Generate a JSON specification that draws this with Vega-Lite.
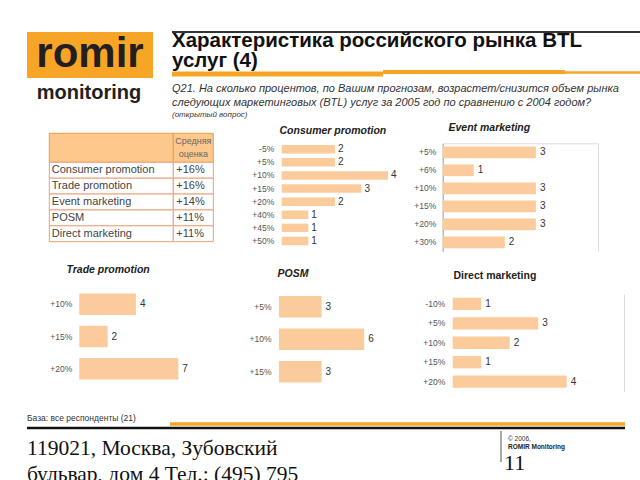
{
  "$schema": "https://vega.github.io/schema/vega-lite/v6.json",
  "width": 640,
  "height": 480,
  "autosize": "none",
  "padding": 0,
  "background": "white",
  "config": {"view": {"stroke": null}, "font": "Liberation Sans"},
  "datasets": {
    "cp": [{"change": "-5%", "count": 2}, {"change": "+5%", "count": 2}, {"change": "+10%", "count": 4}, {"change": "+15%", "count": 3}, {"change": "+20%", "count": 2}, {"change": "+40%", "count": 1}, {"change": "+45%", "count": 1}, {"change": "+50%", "count": 1}],
    "em": [{"change": "+5%", "count": 3}, {"change": "+6%", "count": 1}, {"change": "+10%", "count": 3}, {"change": "+15%", "count": 3}, {"change": "+20%", "count": 3}, {"change": "+30%", "count": 2}],
    "tp": [{"change": "+10%", "count": 4}, {"change": "+15%", "count": 2}, {"change": "+20%", "count": 7}],
    "posm": [{"change": "+5%", "count": 3}, {"change": "+10%", "count": 6}, {"change": "+15%", "count": 3}],
    "dm": [{"change": "-10%", "count": 1}, {"change": "+5%", "count": 3}, {"change": "+10%", "count": 2}, {"change": "+15%", "count": 1}, {"change": "+20%", "count": 4}],
    "table": [{"service": "Consumer promotion", "avg": 0.16}, {"service": "Trade promotion", "avg": 0.16}, {"service": "Event marketing", "avg": 0.14}, {"service": "POSM", "avg": 0.11}, {"service": "Direct marketing", "avg": 0.11}]
  },
  "layer": [
    {"data": {"values": [{}]}, "mark": {"type": "rect", "color": "#F7A526"}, "encoding": {"x": {"value": 27}, "x2": {"value": 153}, "y": {"value": 32}, "y2": {"value": 78}}},
    {"data": {"values": [{}]}, "mark": {"type": "text", "text": "romir", "fontWeight": "bold", "fontSize": 42, "color": "#231F20", "align": "center", "baseline": "alphabetic"}, "encoding": {"x": {"value": 90}, "y": {"value": 67}}},
    {"data": {"values": [{}]}, "mark": {"type": "text", "text": "monitoring", "fontWeight": "bold", "fontSize": 20, "color": "#231F20", "align": "center", "baseline": "alphabetic"}, "encoding": {"x": {"value": 89}, "y": {"value": 99}}},
    {"data": {"values": [{}]}, "mark": {"type": "rule", "color": "#333333", "strokeWidth": 2}, "encoding": {"x": {"value": 172}, "x2": {"value": 640}, "y": {"value": 32}}},
    {"data": {"values": [{}]}, "mark": {"type": "text", "text": ["Характеристика российского рынка BTL", "услуг (4)"], "fontWeight": "bold", "fontSize": 20.5, "color": "#111111", "align": "left", "baseline": "alphabetic", "lineHeight": 20.5}, "encoding": {"x": {"value": 172}, "y": {"value": 46.5}}},
    {"data": {"values": [{}]}, "mark": {"type": "rule", "color": "#F7A526", "strokeWidth": 5}, "encoding": {"x": {"value": 172}, "x2": {"value": 383}, "y": {"value": 74}}},
    {"data": {"values": [{}]}, "mark": {"type": "rule", "color": "#F7A526", "strokeWidth": 4}, "encoding": {"x": {"value": 383}, "x2": {"value": 565}, "y": {"value": 72}}},
    {"data": {"values": [{}]}, "mark": {"type": "rule", "color": "#F7A526", "strokeWidth": 2.5}, "encoding": {"x": {"value": 565}, "x2": {"value": 640}, "y": {"value": 72.5}}},
    {"data": {"values": [{}]}, "mark": {"type": "text", "text": ["Q21. На сколько процентов, по Вашим прогнозам, возрастет/снизится объем рынка", "следующих маркетинговых (BTL) услуг за 2005 год по сравнению с 2004 годом?"], "fontStyle": "italic", "fontSize": 11, "color": "#333333", "align": "left", "baseline": "alphabetic", "lineHeight": 14}, "encoding": {"x": {"value": 172}, "y": {"value": 92}}},
    {"data": {"values": [{}]}, "mark": {"type": "text", "text": "(открытый вопрос)", "fontStyle": "italic", "fontSize": 8, "color": "#333333", "align": "left", "baseline": "alphabetic"}, "encoding": {"x": {"value": 172}, "y": {"value": 117}}},

    {
      "layer": [
        {
          "data": {"values": [{"h": "Средняя оценка"}]},
          "encoding": {"y": {"field": "h", "type": "nominal", "scale": {"range": [133.3, 162.3], "paddingInner": 0, "paddingOuter": 0}, "axis": null}},
          "layer": [
            {"mark": {"type": "rect", "fill": "#FCC88C", "stroke": "#EE9A50", "strokeWidth": 1}, "encoding": {"x": {"datum": 0, "type": "quantitative", "scale": {"domain": [0, 1, 2], "range": [49.3, 173.3, 213.3], "nice": false, "zero": false}, "axis": null}, "x2": {"datum": 1}}},
            {"mark": {"type": "rect", "fill": "#FCC88C", "stroke": "#EE9A50", "strokeWidth": 1}, "encoding": {"x": {"datum": 1, "type": "quantitative"}, "x2": {"datum": 2}}},
            {"mark": {"type": "text", "lineBreak": " ", "fontSize": 9, "color": "#666666", "lineHeight": 13, "align": "center", "baseline": "middle", "dy": -6.5}, "encoding": {"x": {"datum": 1.5, "type": "quantitative"}, "text": {"field": "h"}}}
          ]
        },
        {
          "data": {"name": "table"},
          "encoding": {"y": {"field": "service", "type": "nominal", "sort": null, "scale": {"range": [162.3, 241.7], "paddingInner": 0, "paddingOuter": 0}, "axis": null}},
          "layer": [
            {"mark": {"type": "rect", "fill": "white", "stroke": "#E9A07C", "strokeWidth": 1}, "encoding": {"x": {"datum": 0, "type": "quantitative"}, "x2": {"datum": 1}}},
            {"mark": {"type": "rect", "fill": "white", "stroke": "#E9A07C", "strokeWidth": 1}, "encoding": {"x": {"datum": 1, "type": "quantitative"}, "x2": {"datum": 2}}},
            {"mark": {"type": "text", "align": "left", "baseline": "middle", "dx": 2.5, "fontSize": 11, "color": "#444444"}, "encoding": {"x": {"datum": 0, "type": "quantitative"}, "text": {"field": "service"}}},
            {"mark": {"type": "text", "align": "left", "baseline": "middle", "dx": 3, "fontSize": 11, "color": "#444444"}, "encoding": {"x": {"datum": 1, "type": "quantitative"}, "text": {"field": "avg", "type": "quantitative", "format": "+.0%"}}}
          ]
        }
      ],
      "resolve": {"scale": {"y": "independent"}}
    },

    {
      "data": {"name": "cp"},
      "encoding": {
        "y": {"field": "change", "type": "nominal", "sort": null, "scale": {"range": [142.7, 247.5], "paddingInner": 0.35, "paddingOuter": 0.175},
              "axis": {"orient": "left", "offset": -281.7, "title": null, "domain": false, "ticks": false, "grid": false, "labelPadding": 8, "labelFontSize": 8.5, "labelColor": "#555555"}},
        "x": {"field": "count", "type": "quantitative", "scale": {"domain": [0, 5], "range": [281.7, 414.7], "nice": false},
              "axis": {"orient": "top", "offset": -142.7, "title": "Consumer promotion", "labels": false, "ticks": false, "domain": false, "grid": false, "titleX": 279, "titleAlign": "left", "titlePadding": 7, "titleFontSize": 10.5, "titleFontWeight": "bold", "titleFontStyle": "italic", "titleColor": "#222222"}}
      },
      "layer": [
        {"mark": {"type": "bar", "color": "#FBCB9C"}},
        {"mark": {"type": "text", "align": "left", "baseline": "middle", "dx": 3, "fontSize": 10, "color": "#333333"}, "encoding": {"text": {"field": "count", "type": "quantitative"}}}
      ]
    },

    {
      "data": {"name": "em"},
      "encoding": {
        "y": {"field": "change", "type": "nominal", "sort": null, "scale": {"range": [143.3, 251.3], "paddingInner": 0.35, "paddingOuter": 0.175},
              "axis": {"orient": "left", "offset": -442.7, "title": null, "domain": true, "domainColor": "#999999", "ticks": false, "grid": false, "labelPadding": 7, "labelFontSize": 8.5, "labelColor": "#555555"}},
        "x": {"field": "count", "type": "quantitative", "scale": {"domain": [0, 5], "range": [442.7, 598], "nice": false},
              "axis": {"orient": "top", "offset": -143.3, "title": "Event marketing", "labels": false, "ticks": false, "domain": true, "domainColor": "#DDDDDD", "grid": true, "values": [5], "gridColor": "#DDDDDD", "titleX": 448, "titleAlign": "left", "titlePadding": 11, "titleFontSize": 10.5, "titleFontWeight": "bold", "titleFontStyle": "italic", "titleColor": "#222222"}}
      },
      "layer": [
        {"mark": {"type": "bar", "color": "#FBCB9C"}},
        {"mark": {"type": "text", "align": "left", "baseline": "middle", "dx": 4, "fontSize": 10, "color": "#333333"}, "encoding": {"text": {"field": "count", "type": "quantitative"}}}
      ]
    },

    {
      "data": {"name": "tp"},
      "encoding": {
        "y": {"field": "change", "type": "nominal", "sort": null, "scale": {"range": [288, 385], "paddingInner": 0.335, "paddingOuter": 0.1675},
              "axis": {"orient": "left", "offset": -79.3, "title": null, "domain": false, "ticks": false, "grid": false, "labelPadding": 7.5, "labelFontSize": 8.5, "labelColor": "#555555"}},
        "x": {"field": "count", "type": "quantitative", "scale": {"domain": [0, 8], "range": [79.3, 192.5], "nice": false},
              "axis": {"orient": "top", "offset": -288, "title": "Trade promotion", "labels": false, "ticks": false, "domain": false, "grid": false, "titleX": 66, "titleAlign": "left", "titlePadding": 14, "titleFontSize": 10.5, "titleFontWeight": "bold", "titleFontStyle": "italic", "titleColor": "#222222"}}
      },
      "layer": [
        {"mark": {"type": "bar", "color": "#FBCB9C"}},
        {"mark": {"type": "text", "align": "left", "baseline": "middle", "dx": 4, "fontSize": 10, "color": "#333333"}, "encoding": {"text": {"field": "count", "type": "quantitative"}}}
      ]
    },

    {
      "data": {"name": "posm"},
      "encoding": {
        "y": {"field": "change", "type": "nominal", "sort": null, "scale": {"range": [290.5, 388], "paddingInner": 0.335, "paddingOuter": 0.1675},
              "axis": {"orient": "left", "offset": -279, "title": null, "domain": false, "ticks": false, "grid": false, "labelPadding": 8, "labelFontSize": 8.5, "labelColor": "#555555"}},
        "x": {"field": "count", "type": "quantitative", "scale": {"domain": [0, 7], "range": [279, 378.4], "nice": false},
              "axis": {"orient": "top", "offset": -290.5, "title": "POSM", "labels": false, "ticks": false, "domain": false, "grid": false, "titleX": 277, "titleAlign": "left", "titlePadding": 12.5, "titleFontSize": 10.5, "titleFontWeight": "bold", "titleFontStyle": "italic", "titleColor": "#222222"}}
      },
      "layer": [
        {"mark": {"type": "bar", "color": "#FBCB9C"}},
        {"mark": {"type": "text", "align": "left", "baseline": "middle", "dx": 4, "fontSize": 10, "color": "#333333"}, "encoding": {"text": {"field": "count", "type": "quantitative"}}}
      ]
    },

    {
      "data": {"name": "dm"},
      "encoding": {
        "y": {"field": "change", "type": "nominal", "sort": null, "scale": {"range": [294.1, 391.4], "paddingInner": 0.37, "paddingOuter": 0.185},
              "axis": {"orient": "left", "offset": -452.7, "title": null, "domain": false, "ticks": false, "grid": false, "labelPadding": 8, "labelFontSize": 8.5, "labelColor": "#555555"}},
        "x": {"field": "count", "type": "quantitative", "scale": {"domain": [0, 6], "range": [452.7, 623.7], "nice": false},
              "axis": {"orient": "top", "offset": -294.1, "title": "Direct marketing", "labels": false, "ticks": false, "domain": false, "grid": true, "values": [6], "gridColor": "#DDDDDD", "titleX": 453, "titleAlign": "left", "titlePadding": 14, "titleFontSize": 10.5, "titleFontWeight": "bold", "titleColor": "#222222"}}
      },
      "layer": [
        {"mark": {"type": "bar", "color": "#FBCB9C"}},
        {"mark": {"type": "text", "align": "left", "baseline": "middle", "dx": 4, "fontSize": 10, "color": "#333333"}, "encoding": {"text": {"field": "count", "type": "quantitative"}}}
      ]
    },

    {"data": {"values": [{}]}, "mark": {"type": "text", "text": "База: все респонденты (21)", "fontSize": 8.5, "color": "#333333", "align": "left", "baseline": "alphabetic"}, "encoding": {"x": {"value": 27}, "y": {"value": 421}}},
    {"data": {"values": [{}]}, "mark": {"type": "rule", "color": "#F7A526", "strokeWidth": 3.5}, "encoding": {"x": {"value": 170}, "x2": {"value": 625}, "y": {"value": 424}}},
    {"data": {"values": [{}]}, "mark": {"type": "rule", "color": "#111111", "strokeWidth": 2.3}, "encoding": {"x": {"value": 27}, "x2": {"value": 625}, "y": {"value": 428}}},
    {"data": {"values": [{}]}, "mark": {"type": "text", "text": ["119021, Москва, Зубовский", "бульвар, дом 4 Тел.: (495) 795"], "font": "Liberation Serif", "fontSize": 21.5, "color": "#111111", "align": "left", "baseline": "alphabetic", "lineHeight": 26}, "encoding": {"x": {"value": 27}, "y": {"value": 455}}},
    {"data": {"values": [{}]}, "mark": {"type": "rule", "color": "#555555", "strokeWidth": 1}, "encoding": {"x": {"value": 501}, "y": {"value": 431}, "y2": {"value": 462}}},
    {"data": {"values": [{}]}, "mark": {"type": "text", "text": "© 2006,", "fontSize": 6.5, "color": "#333333", "align": "left", "baseline": "alphabetic"}, "encoding": {"x": {"value": 508}, "y": {"value": 441}}},
    {"data": {"values": [{}]}, "mark": {"type": "text", "text": "ROMIR Monitoring", "fontSize": 6.5, "fontWeight": "bold", "color": "#222222", "align": "left", "baseline": "alphabetic"}, "encoding": {"x": {"value": 508}, "y": {"value": 448.5}}},
    {"data": {"values": [{}]}, "mark": {"type": "text", "text": "11", "font": "Liberation Serif", "fontSize": 22, "color": "#111111", "align": "left", "baseline": "alphabetic"}, "encoding": {"x": {"value": 504}, "y": {"value": 470}}}
  ],
  "resolve": {"scale": {"x": "independent", "y": "independent"}, "axis": {"x": "independent", "y": "independent"}}
}
